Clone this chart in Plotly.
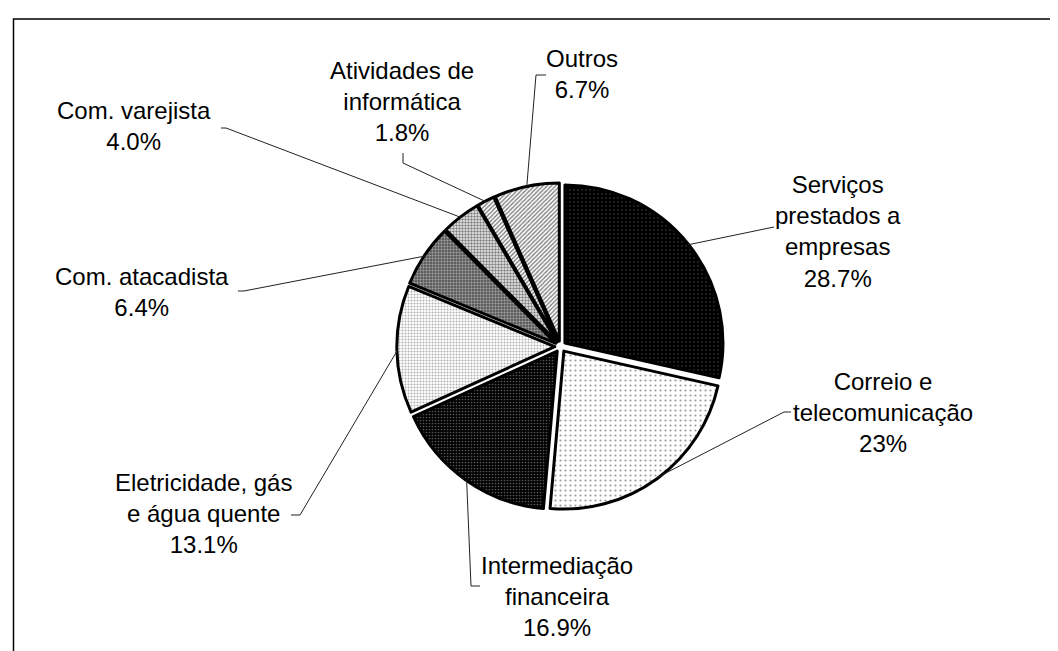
import math
import plotly.graph_objects as go

# data
labels = ["Serviços prestados a empresas", "Correio e telecomunicação",
          "Intermediação financeira", "Eletricidade, gás e água quente",
          "Com. atacadista", "Com. varejista", "Atividades de informática", "Outros"]
label_text = ["Serviços<br>prestados a<br>empresas", "Correio e<br>telecomunicação",
              "Intermediação<br>financeira", "Eletricidade, gás<br>e água quente",
              "Com. atacadista", "Com. varejista", "Atividades de<br>informática", "Outros"]
values = [28.7, 23, 16.9, 13.1, 6.4, 4.0, 1.8, 6.7]
pct_text = ["28.7%", "23%", "16.9%", "13.1%", "6.4%", "4.0%", "1.8%", "6.7%"]

# slice fills (Excel-like patterns)
pat_shape = [".", ".", ".", ".", ".", ".", "/", "/"]
pat_bg = ["#000000", "#ffffff", "#000000", "#ffffff", "#4a4a4a", "#f0f0f0", "#ffffff", "#ffffff"]
pat_fg = ["#4e4e4e", "#9a9a9a", "#585858", "#b0b0b0", "#9a9a9a", "#808080", "#707070", "#808080"]
pat_size = [4, 5, 3, 3, 3, 3, 3, 3]
pat_solid = [0.1, 0.15, 0.25, 0.35, 0.5, 0.5, 0.4, 0.45]

# layout (pixels)
W, H = 1058, 651
CX, CY, RAD, PULL = 552.5, 338.5, 158, 0.036
# label block centres, leader elbow and short end tick
lab_pos = [(830, 223), (875, 404), (549, 588), (195, 505),
           (134, 284), (126, 118), (394, 94), (574, 66)]
elbow = [(766, 219), (776, 404), (463, 578), (292, 507),
         (236, 283), (218, 120), (395, 155), (528, 67)]
tick = [(766, 219), (783, 404), (472, 578), (283, 507),
        (230, 283), (213, 120), (395, 145), (538, 67)]

def px(x, y):
    return x / W, 1 - y / H

half = RAD * (1 + PULL)
fig = go.Figure(go.Pie(
    labels=labels, values=values, sort=False, direction="clockwise", rotation=0,
    pull=[PULL] * len(values), textinfo="none", hoverinfo="label+percent",
    marker=dict(
        colors=pat_bg,
        line=dict(color="black", width=3),
        pattern=dict(shape=pat_shape, bgcolor=pat_bg, fgcolor=pat_fg,
                     size=pat_size, solidity=pat_solid, fillmode="replace"),
    ),
    domain=dict(x=[(CX - half) / W, (CX + half) / W],
                y=[1 - (CY + half) / H, 1 - (CY - half) / H]),
))

shapes = []
annotations = []
total = sum(values)
cum = 0
for i, v in enumerate(values):
    mid = (cum + v / 2) / total * 2 * math.pi
    cum += v
    r_edge = half - 1
    sx = CX + r_edge * math.sin(mid)
    sy = CY - r_edge * math.cos(mid)
    pts = [(sx, sy), elbow[i], tick[i]]
    for a, b in zip(pts[:-1], pts[1:]):
        if a == b:
            continue
        x0, y0 = px(*a)
        x1, y1 = px(*b)
        shapes.append(dict(type="line", xref="paper", yref="paper",
                           x0=x0, y0=y0, x1=x1, y1=y1,
                           line=dict(color="#222222", width=1)))
    lx, ly = px(*lab_pos[i])
    annotations.append(dict(
        x=lx, y=ly, xref="paper", yref="paper", showarrow=False,
        text=label_text[i] + "<br>" + pct_text[i], align="center",
        xanchor="center", yanchor="middle",
        font=dict(family="Liberation Sans, Arial", size=24, color="black")))

# chart area frame (runs off right and bottom)
shapes.append(dict(type="rect", xref="paper", yref="paper",
                   x0=5.5 / W, y0=-0.05, x1=1.05, y1=1 - 11 / H,
                   line=dict(color="black", width=1.5)))

fig.update_layout(
    width=W, height=H, showlegend=False,
    margin=dict(l=0, r=0, t=0, b=0),
    paper_bgcolor="white", plot_bgcolor="white",
    shapes=shapes, annotations=annotations,
)
fig.write_html("out.html")
